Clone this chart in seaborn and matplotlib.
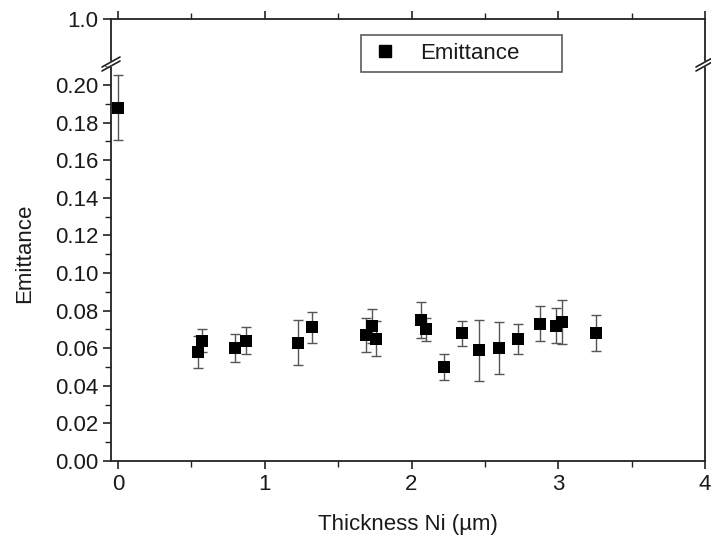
import numpy as np
import pandas as pd
import matplotlib
matplotlib.use("Agg")
import matplotlib.pyplot as plt
import seaborn as sns
from matplotlib.lines import Line2D
from matplotlib.ticker import MultipleLocator

thickness = [0.00, 0.547, 0.570, 0.797, 0.870, 1.229, 1.320, 1.690, 1.731, 1.758,
             2.063, 2.099, 2.221, 2.342, 2.462, 2.594, 2.723, 2.876, 2.982, 3.023, 3.255]
emittance = [0.188, 0.058, 0.064, 0.060, 0.064, 0.063, 0.071, 0.067, 0.072, 0.065,
             0.075, 0.070, 0.050, 0.068, 0.059, 0.060, 0.065, 0.073, 0.072, 0.074, 0.068]
error = [0.0175, 0.0085, 0.006, 0.0076, 0.007, 0.012, 0.0084, 0.009, 0.009, 0.0094,
         0.0094, 0.006, 0.0071, 0.0066, 0.0162, 0.0137, 0.008, 0.0094, 0.0094, 0.0117, 0.0094]

df = pd.DataFrame({"Thickness": thickness, "Emittance": emittance, "err": error})

sns.set_theme(style="white")
plt.rcParams['font.family'] = ['Liberation Sans', 'DejaVu Sans']
plt.rcParams['font.size'] = 16
plt.rcParams['text.color'] = '#1a1a1a'
plt.rcParams['axes.labelcolor'] = '#1a1a1a'
plt.rcParams['xtick.color'] = '#1a1a1a'
plt.rcParams['ytick.color'] = '#1a1a1a'

fig = plt.figure(figsize=(7.11, 5.42), dpi=100)
left, right = 111/711, 705/711
b_bot, b_top = (542-461)/542, (542-62)/542
t_top = (542-19)/542
ax = fig.add_axes([left, b_bot, right-left, b_top-b_bot])
axt = fig.add_axes([left, b_top, right-left, t_top-b_top], sharex=ax)

ecol = "#555555"
ax.errorbar(df["Thickness"], df["Emittance"], yerr=df["err"], fmt="none",
            ecolor=ecol, elinewidth=1.0, capsize=3.5, capthick=1.0, zorder=2)
sns.scatterplot(data=df, x="Thickness", y="Emittance", ax=ax, marker="s",
                color="black", s=65, edgecolor="black", linewidth=0, zorder=3,
                legend=False)

ax.set_xlim(-0.048, 4.0)
ax.set_ylim(0, 0.2122)
axt.set_ylim(0.98, 1.0)

for a in (ax, axt):
    for s in a.spines.values():
        s.set_color("#222222")
        s.set_linewidth(1.3)

ax.spines["top"].set_visible(False)
axt.spines["bottom"].set_visible(False)

ax.xaxis.set_major_locator(MultipleLocator(1))
ax.xaxis.set_minor_locator(MultipleLocator(0.5))
ax.yaxis.set_major_locator(MultipleLocator(0.02))
ax.yaxis.set_minor_locator(MultipleLocator(0.01))
ax.yaxis.set_major_formatter(matplotlib.ticker.FormatStrFormatter("%.2f"))
ax.tick_params(axis="both", which="major", direction="out", length=6, width=1.2,
               labelsize=16, color="#222222", bottom=True, left=True, right=False, top=False, pad=3)
ax.tick_params(axis="both", which="minor", direction="out", length=4, width=1.0,
               color="#222222", bottom=True, left=True, right=False, top=False)

axt.set_yticks([1.0])
axt.yaxis.set_major_formatter(matplotlib.ticker.FormatStrFormatter("%.1f"))
axt.tick_params(axis="y", which="major", direction="out", length=6, width=1.2,
                labelsize=16, left=True, right=False, color="#222222", pad=3)
axt.tick_params(axis="x", which="both", direction="out", top=True, bottom=False,
                labeltop=False, labelbottom=False, color="#222222")
axt.tick_params(axis="x", which="major", length=6, width=1.2)
axt.tick_params(axis="x", which="minor", length=4, width=1.0)
axt.set_xlabel("")
axt.set_ylabel("")

ax.set_xlabel("Thickness Ni (µm)", fontsize=16, labelpad=14)
ax.set_ylabel("Emittance", fontsize=16, labelpad=8)
ax.yaxis.set_label_coords(-0.128, 0.52)

# break marks on left and right spines
def brk(xc, yc):
    dx, dy = 9/711, 5/542
    gap = 4/542
    fig.add_artist(Line2D([xc-3/711, xc+3/711], [yc, yc], transform=fig.transFigure,
                          color="white", lw=4, zorder=10))
    for off in (-gap/2, gap/2):
        fig.add_artist(Line2D([xc-dx, xc+dx], [yc-dy+off, yc+dy+off],
                              transform=fig.transFigure, color="#222222", lw=1.2, zorder=11))

brk(left, (542-64)/542)
brk(right, (542-64)/542)

handle = Line2D([], [], marker="s", color="black", linestyle="none", markersize=8)
leg = fig.legend([handle], ["Emittance"], loc="lower left",
                 bbox_to_anchor=(361/711, (542-72)/542, 201/711, 39/542), mode="expand",
                 frameon=True, fancybox=False, fontsize=16, handletextpad=0.8,
                 borderpad=0.35, handlelength=1.5, borderaxespad=0)
leg.get_frame().set_edgecolor("#333333")
leg.get_frame().set_linewidth(1.2)
leg.set_zorder(20)

fig.savefig("out.png", dpi=100)
